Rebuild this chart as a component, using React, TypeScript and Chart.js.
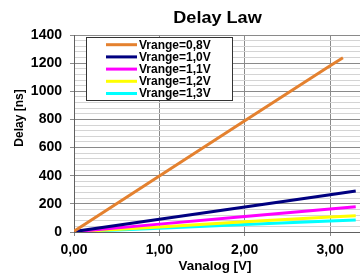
import React, { useEffect, useRef } from "react";
import { Chart, registerables } from "chart.js";

Chart.register(...registerables);

const chartTitle = "Delay Law";
const xTitle = "Vanalog [V]";
const yTitle = "Delay [ns]";

const seriesLabels = ["Vrange=0,8V", "Vrange=1,0V", "Vrange=1,1V", "Vrange=1,2V", "Vrange=1,3V"];
const seriesColors = ["#E4812F", "#000080", "#FF00FF", "#FFFF00", "#00FFFF"];

const xOrange = [0, 1, 2, 3, 3.15];
const yOrange = [5, 398, 790, 1182, 1238];
const xOthers = [0, 1, 2, 3, 3.3];
const yV10 = [3, 90, 178, 265, 291];
const yV11 = [2, 56, 110, 164, 180];
const yV12 = [1, 36, 72, 106, 116];
const yV13 = [1, 27, 53, 78, 86];

const xTicks = [0, 1, 2, 3];
const yMajorStep = 200;

const toPoints = (xs: number[], ys: number[]) => xs.map((x, i) => ({ x, y: ys[i] }));

const FONT = "'Liberation Sans', Arial, sans-serif";

function stretchedText(ctx: any, text: string, x: number, y: number, sx: number) {
  ctx.save();
  ctx.translate(x, y);
  ctx.scale(sx, 1);
  ctx.fillText(text, 0, 0);
  ctx.restore();
}

const overlayPlugin = {
  id: "overlay",
  afterDraw(chart: any) {
    const { ctx, chartArea } = chart;
    ctx.save();
    ctx.fillStyle = "#000";
    ctx.textAlign = "center";
    ctx.textBaseline = "alphabetic";
    ctx.font = `bold 16px ${FONT}`;
    stretchedText(ctx, chartTitle, 217.5, 22.7, 1.13);
    ctx.font = `bold 13px ${FONT}`;
    stretchedText(ctx, xTitle, 215, 269.5, 1.03);
    ctx.save();
    ctx.translate(22.5, 118);
    ctx.rotate(-Math.PI / 2);
    ctx.font = `bold 12px ${FONT}`;
    ctx.fillText(yTitle, 0, 0);
    ctx.restore();

    // legend
    const lx = chartArea.left + 12.5;
    const ly = 37.5;
    const lw = 146;
    const lh = 63;
    ctx.fillStyle = "#fff";
    ctx.fillRect(lx, ly, lw, lh);
    ctx.strokeStyle = "#333";
    ctx.lineWidth = 1;
    ctx.strokeRect(lx, ly, lw, lh);
    ctx.font = `bold 12px ${FONT}`;
    ctx.textAlign = "left";
    ctx.textBaseline = "middle";
    chart.data.datasets.forEach((ds: any, i: number) => {
      const y = 44.7 + i * 12.2;
      ctx.strokeStyle = ds.borderColor;
      ctx.lineWidth = 3;
      ctx.beginPath();
      ctx.moveTo(lx + 19.5, y);
      ctx.lineTo(lx + 50.5, y);
      ctx.stroke();
      ctx.fillStyle = "#000";
      ctx.fillText(ds.label, lx + 52.5, y + 0.5);
    });
    ctx.restore();
  },
};

export default function App() {
  const ref = useRef<HTMLCanvasElement>(null);
  useEffect(() => {
    const canvas = ref.current!;
    const yData = [yOrange, yV10, yV11, yV12, yV13];
    const chart = new Chart(canvas, {
      type: "line",
      data: {
        datasets: yData.map((ys, i) => ({
          label: seriesLabels[i],
          data: toPoints(i === 0 ? xOrange : xOthers, ys),
          borderColor: seriesColors[i],
          backgroundColor: seriesColors[i],
          borderWidth: 3,
          pointRadius: 0,
          tension: 0,
          fill: false,
        })),
      },
      options: {
        responsive: false,
        animation: false,
        layout: { padding: { top: 35, right: 0, left: 0, bottom: 0 } },
        plugins: {
          legend: { display: false },
          title: { display: false },
          tooltip: { enabled: false },
        },
        scales: {
          x: {
            type: "linear",
            min: 0,
            max: 3.35,
            afterFit: (s: any) => {
              s.height = 41;
            },
            afterBuildTicks: (s: any) => {
              s.ticks = xTicks.map((v) => ({ value: v }));
            },
            ticks: {
              font: { family: FONT, size: 14, weight: "bold" },
              color: "#000",
              padding: 6,
              maxRotation: 0,
              callback: (v: any) => Number(v).toFixed(2).replace(".", ","),
            },
            grid: { color: "#8a8a8a", lineWidth: 1, tickLength: 4, tickColor: "#8a8a8a" },
            border: { color: "#606060", width: 1 },
          },
          y: {
            min: 0,
            max: 1400,
            afterFit: (s: any) => {
              s.width = 74;
            },
            ticks: {
              stepSize: 40,
              autoSkip: false,
              maxTicksLimit: 100,
              font: { family: FONT, size: 14, weight: "bold" },
              color: "#000",
              padding: 8,
              callback: (v: any) => (Math.round(v) % yMajorStep === 0 ? String(Math.round(v)) : ""),
            },
            grid: {
              color: (c: any) => (Math.round(c.tick.value) % yMajorStep === 0 ? "#8a8a8a" : "#d4d4d4"),
              tickColor: (c: any) => (Math.round(c.tick.value) % yMajorStep === 0 ? "#8a8a8a" : "rgba(0,0,0,0)"),
              lineWidth: 1,
              tickLength: 4,
            },
            border: { color: "#606060", width: 1 },
          },
        },
      },
      plugins: [overlayPlugin],
    } as any);
    return () => chart.destroy();
  }, []);
  return (
    <div style={{ position: "absolute", left: 0, top: 0, width: 360, height: 273, background: "#fff" }}>
      <canvas ref={ref} width={360} height={273} style={{ display: "block" }} />
    </div>
  );
}
